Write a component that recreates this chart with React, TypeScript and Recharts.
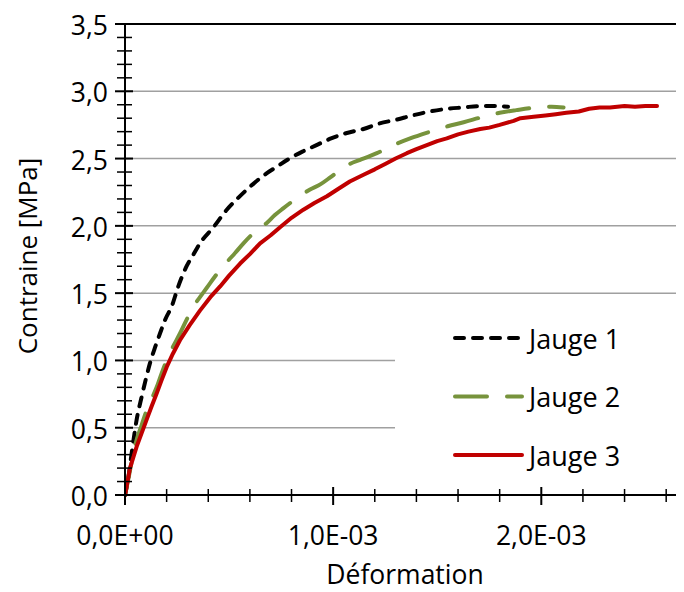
import { LineChart, Line, XAxis, YAxis, CartesianGrid, ReferenceLine, Legend } from "recharts";

// strain values are in units of 1E-03
const jauge1Strain = [0, 0.015, 0.032, 0.056, 0.08, 0.1, 0.12, 0.145, 0.168, 0.195, 0.224, 0.256, 0.296, 0.33, 0.36, 0.425, 0.489, 0.545, 0.6, 0.68, 0.73, 0.79, 0.85, 0.92, 0.99, 1.066, 1.146, 1.22, 1.306, 1.38, 1.466, 1.55, 1.627, 1.7, 1.787, 1.84];
const jauge1Stress = [0, 0.12, 0.31, 0.56, 0.73, 0.86, 0.98, 1.1, 1.2, 1.31, 1.4, 1.55, 1.7, 1.79, 1.87, 1.99, 2.12, 2.21, 2.29, 2.39, 2.44, 2.5, 2.55, 2.6, 2.65, 2.69, 2.72, 2.76, 2.79, 2.82, 2.85, 2.87, 2.88, 2.89, 2.89, 2.885];

const jauge2Strain = [0, 0.02, 0.035, 0.056, 0.08, 0.104, 0.13, 0.152, 0.175, 0.2, 0.23, 0.264, 0.295, 0.328, 0.36, 0.393, 0.44, 0.489, 0.53, 0.569, 0.62, 0.68, 0.72, 0.76, 0.82, 0.889, 0.94, 0.986, 1.03, 1.08, 1.13, 1.21, 1.29, 1.37, 1.466, 1.55, 1.627, 1.72, 1.8, 1.88, 1.98, 2.05, 2.107];
const jauge2Stress = [0, 0.15, 0.27, 0.41, 0.52, 0.63, 0.72, 0.8, 0.9, 1.0, 1.1, 1.2, 1.3, 1.4, 1.47, 1.54, 1.64, 1.73, 1.8, 1.87, 1.95, 2.02, 2.08, 2.13, 2.2, 2.27, 2.31, 2.36, 2.41, 2.46, 2.49, 2.54, 2.6, 2.65, 2.7, 2.74, 2.77, 2.81, 2.84, 2.86, 2.88, 2.885, 2.88];

const jauge3Strain = [0, 0.01, 0.024, 0.04, 0.056, 0.08, 0.104, 0.128, 0.152, 0.175, 0.2, 0.23, 0.264, 0.31, 0.36, 0.41, 0.457, 0.5, 0.553, 0.6, 0.649, 0.7, 0.745, 0.8, 0.857, 0.91, 0.97, 1.02, 1.08, 1.146, 1.2, 1.25, 1.3, 1.354, 1.4, 1.45, 1.5, 1.546, 1.6, 1.65, 1.707, 1.75, 1.8, 1.867, 1.9, 1.963, 2.02, 2.07, 2.12, 2.18, 2.23, 2.28, 2.33, 2.4, 2.45, 2.5, 2.556];
const jauge3Stress = [0, 0.08, 0.2, 0.28, 0.36, 0.46, 0.56, 0.66, 0.755, 0.85, 0.95, 1.05, 1.15, 1.26, 1.37, 1.47, 1.55, 1.63, 1.72, 1.79, 1.87, 1.93, 1.99, 2.06, 2.12, 2.17, 2.22, 2.27, 2.33, 2.38, 2.42, 2.46, 2.5, 2.54, 2.57, 2.6, 2.63, 2.65, 2.68, 2.7, 2.72, 2.73, 2.75, 2.78, 2.8, 2.81, 2.82, 2.83, 2.84, 2.85, 2.87, 2.88, 2.88, 2.89, 2.885, 2.89, 2.89];

const xTicks = [0, 0.0002, 0.0004, 0.0006, 0.0008, 0.001, 0.0012, 0.0014, 0.0016, 0.0018, 0.002, 0.0022, 0.0024, 0.0026];
const xMajor = [0, 0.001, 0.002];
const yTicks = [0, 0.1, 0.2, 0.3, 0.4, 0.5, 0.6, 0.7, 0.8, 0.9, 1, 1.1, 1.2, 1.3, 1.4, 1.5, 1.6, 1.7, 1.8, 1.9, 2, 2.1, 2.2, 2.3, 2.4, 2.5, 2.6, 2.7, 2.8, 2.9, 3, 3.1, 3.2, 3.3, 3.4, 3.5];
const yMajor = [0, 0.5, 1, 1.5, 2, 2.5, 3, 3.5];

const series = [
  { name: "Jauge 1", color: "#000000", dash: "9 9" },
  { name: "Jauge 2", color: "#77933C", dash: "32 20" },
  { name: "Jauge 3", color: "#C00000", dash: undefined },
];

const toData = (strain: number[], stress: number[]) =>
  strain.map((s, i) => ({ strain: s * 1e-3, stress: stress[i] }));

const data1 = toData(jauge1Strain, jauge1Stress);
const data2 = toData(jauge2Strain, jauge2Stress);
const data3 = toData(jauge3Strain, jauge3Stress);

const FONT = "'Open Sans', sans-serif";

const isMajor = (v: number, list: number[]) => list.some((m) => Math.abs(m - v) < 1e-9);

const fmtSci = (v: number) => {
  if (v === 0) return "0,0E+00";
  const exp = Math.floor(Math.log10(Math.abs(v)) + 1e-9);
  const mant = v / Math.pow(10, exp);
  const sign = exp < 0 ? "-" : "+";
  return `${mant.toFixed(1).replace(".", ",")}E${sign}${String(Math.abs(exp)).padStart(2, "0")}`;
};

const XTick = (props: any) => {
  const { x, y, payload } = props;
  const major = isMajor(payload.value, xMajor);
  return (
    <g>
      <line x1={x} x2={x} y1={major ? y - 8 : y - 6} y2={major ? y + 10 : y + 7} stroke="#000" strokeWidth={major ? 2 : 1.5} />
      {major && (
        <text x={x} y={y + 40} textAnchor="middle" dominantBaseline="central" fontFamily={FONT} fontSize={26.5} fill="#000">
          {fmtSci(payload.value)}
        </text>
      )}
    </g>
  );
};

const YTick = (props: any) => {
  const { x, y, payload } = props;
  const major = isMajor(payload.value, yMajor);
  return (
    <g>
      <line x1={major ? x - 10 : x - 8} x2={major ? x + 8 : x + 7} y1={y} y2={y} stroke="#000" strokeWidth={major ? 2 : 1.5} />
      {major && (
        <text x={x - 17} y={y + 1} textAnchor="end" dominantBaseline="central" fontFamily={FONT} fontSize={26.5} fill="#000">
          {payload.value.toFixed(1).replace(".", ",")}
        </text>
      )}
    </g>
  );
};

const LegendBox = () => (
  <svg width={284} height={180}>
    {series.map((s, i) => {
      const y = 33 + i * 58.5;
      return (
        <g key={s.name}>
          <line x1={60} x2={127} y1={y} y2={y} stroke={s.color} strokeWidth={4} strokeDasharray={s.dash} strokeLinecap="round" />
          <text x={134} y={y} dominantBaseline="central" fontFamily={FONT} fontSize={27} fill="#000">
            {s.name}
          </text>
        </g>
      );
    })}
  </svg>
);

export default function App() {
  return (
    <div style={{ width: 676, height: 584, overflow: "hidden", position: "relative" }}>
      <LineChart width={690} height={584} margin={{ top: 16, right: 11, left: 0, bottom: 0 }}>
        <CartesianGrid horizontal vertical={false} horizontalValues={[0.5, 1, 1.5, 2, 2.5, 3]} stroke="#a0a0a0" strokeWidth={1.5} />
        <XAxis
          type="number"
          dataKey="strain"
          domain={[0, 0.0027]}
          ticks={xTicks}
          allowDataOverflow
          height={97}
          tickSize={0}
          tickMargin={0}
          tickLine={false}
          axisLine={{ stroke: "#000", strokeWidth: 2 }}
          tick={<XTick />}
          interval={0}
          label={{
            content: () => (
              <text x={397} y={566} textAnchor="middle" dominantBaseline="central" fontFamily={FONT} fontSize={26.5} fill="#000">
                Déformation
              </text>
            ),
          }}
        />
        <YAxis
          type="number"
          dataKey="stress"
          domain={[0, 3.5]}
          ticks={yTicks}
          width={117}
          tickSize={0}
          tickMargin={0}
          tickLine={false}
          axisLine={{ stroke: "#000", strokeWidth: 2 }}
          tick={<YTick />}
          interval={0}
          label={{
            content: () => (
              <text x={19} y={248} transform="rotate(-90 19 248)" textAnchor="middle" dominantBaseline="central" fontFamily={FONT} fontSize={26} fill="#000">
                Contraine [MPa]
              </text>
            ),
          }}
        />
        <ReferenceLine y={3.5} stroke="#000" strokeWidth={2} />
        <Legend
          layout="vertical"
          align="center"
          verticalAlign="middle"
          content={() => <LegendBox />}
          wrapperStyle={{ position: "absolute", left: 387, top: 297, width: 284, height: 180, background: "#fff" }}
        />
        <Line data={data1} dataKey="stress" name="Jauge 1" type="monotone" stroke={series[0].color} strokeWidth={4} strokeDasharray={series[0].dash} strokeLinecap="round" dot={false} isAnimationActive={false} />
        <Line data={data2} dataKey="stress" name="Jauge 2" type="monotone" stroke={series[1].color} strokeWidth={4} strokeDasharray={series[1].dash} strokeLinecap="round" dot={false} isAnimationActive={false} />
        <Line data={data3} dataKey="stress" name="Jauge 3" type="linear" stroke={series[2].color} strokeWidth={4} strokeLinecap="round" strokeLinejoin="round" dot={false} isAnimationActive={false} />
      </LineChart>
    </div>
  );
}
